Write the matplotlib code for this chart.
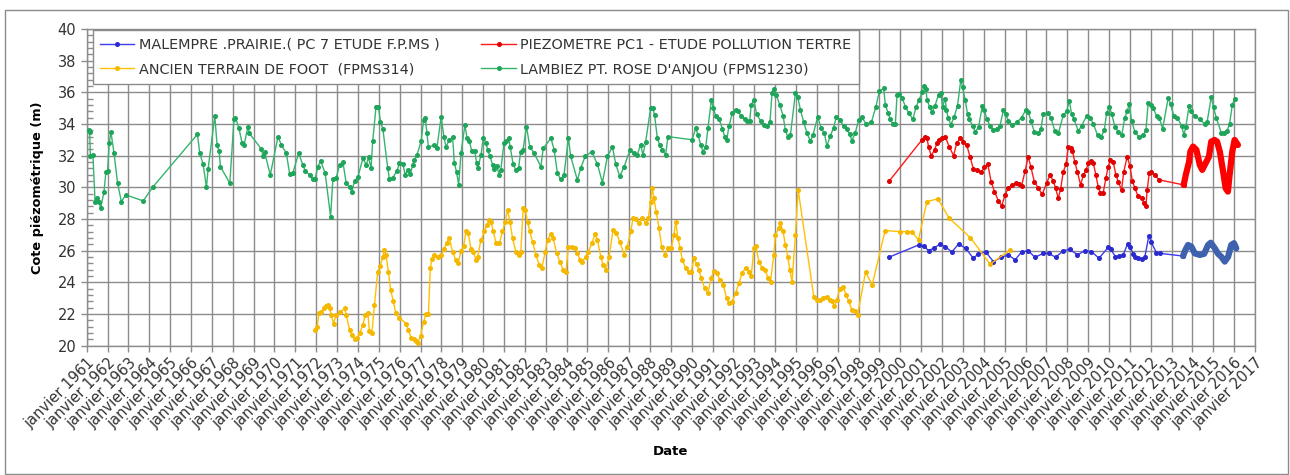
import matplotlib
matplotlib.use("Agg")
import matplotlib.pyplot as plt
from matplotlib.patches import Rectangle
from matplotlib.ticker import MultipleLocator

# dates in decimal years, water levels in m
malempre_t = [1999.44, 2000.88, 2001.11, 2001.35, 2001.59, 2001.91, 2002.15, 2002.47, 2002.79,
              2003.13, 2003.50, 2003.74, 2004.09, 2004.46, 2004.83, 2005.18, 2005.50, 2005.81,
              2006.13, 2006.45, 2006.85, 2007.12, 2007.44, 2007.81, 2008.13, 2008.49, 2008.84,
              2009.16, 2009.52, 2009.96, 2010.09, 2010.31, 2010.47, 2010.68, 2010.89, 2011.00,
              2011.16, 2011.24, 2011.40, 2011.56, 2011.72, 2011.91, 2012.01, 2012.27, 2012.43,
              2013.55]
malempre_z = [25.58, 26.36, 26.32, 26.00, 26.15, 26.42, 26.25, 25.92, 26.42,
              26.15, 25.52, 25.80, 25.92, 25.31, 25.58, 25.73, 25.42, 25.92,
              26.00, 25.58, 25.83, 25.83, 25.58, 26.00, 26.08, 25.73, 26.00,
              25.94, 25.52, 26.21, 26.08, 25.62, 25.66, 25.73, 26.42, 26.25,
              25.80, 25.58, 25.52, 25.45, 25.62, 26.93, 26.57, 25.88, 25.83,
              25.66]
# frequent readings since 2013
malempre_dense_t = [2013.55, 2013.66, 2013.79, 2013.95, 2014.11, 2014.35, 2014.56, 2014.75,
                    2014.88, 2015.07, 2015.23, 2015.38, 2015.55, 2015.71, 2015.86, 2015.99,
                    2016.10]
malempre_dense_z = [25.66, 26.04, 26.36, 26.25, 25.83, 25.73, 25.80, 26.36,
                    26.50, 26.15, 25.80, 25.62, 25.31, 25.62, 26.36, 26.47,
                    26.15]

pc1_t = [1999.47, 2001.03, 2001.16, 2001.27, 2001.35, 2001.48, 2001.64, 2001.75, 2001.83,
         2001.99, 2002.15, 2002.34, 2002.55, 2002.70, 2002.87, 2003.02, 2003.18, 2003.34,
         2003.50, 2003.66, 2003.87, 2004.03, 2004.19, 2004.35, 2004.51, 2004.70, 2004.86,
         2005.02, 2005.18, 2005.37, 2005.53, 2005.69, 2005.81, 2005.98, 2006.13, 2006.26,
         2006.42, 2006.61, 2006.80, 2007.01, 2007.17, 2007.33, 2007.44, 2007.57, 2007.68,
         2007.81, 2007.94, 2008.05, 2008.16, 2008.25, 2008.37, 2008.48, 2008.64, 2008.77,
         2008.90, 2009.01, 2009.12, 2009.25, 2009.37, 2009.48, 2009.59, 2009.72, 2009.85,
         2009.96, 2010.07, 2010.20, 2010.33, 2010.44, 2010.60, 2010.71, 2010.87, 2011.00,
         2011.12, 2011.24, 2011.40, 2011.56, 2011.67, 2011.77, 2011.83, 2011.93, 2012.03,
         2012.20, 2012.40, 2013.58]
pc1_z = [30.40, 32.99, 33.20, 33.14, 32.57, 32.00, 32.36, 32.78, 32.99,
         33.14, 33.20, 32.57, 32.00, 32.78, 33.14, 32.88, 32.67, 31.93,
         31.16, 31.10, 30.95, 31.25, 31.46, 30.36, 29.73, 29.14, 28.85,
         29.52, 29.98, 30.15, 30.26, 30.20, 30.09, 31.04, 31.93, 31.25,
         30.36, 29.94, 29.56, 30.26, 30.78, 30.40, 29.94, 29.31, 29.90,
         30.99, 31.46, 32.57, 32.47, 32.26, 31.58, 30.99, 30.15, 30.78,
         31.10, 31.52, 31.66, 31.52, 30.78, 30.05, 29.63, 29.63, 30.57,
         31.31, 31.73, 31.62, 30.78, 30.36, 29.84, 30.99, 31.93, 31.37,
         30.40, 29.94, 29.42, 29.31, 29.00, 28.85, 29.84, 30.89, 30.99,
         30.78, 30.47, 30.15]
pc1_dense_t = [2013.58, 2013.68, 2013.84, 2013.90, 2014.03, 2014.19, 2014.35, 2014.47,
               2014.63, 2014.79, 2014.90, 2015.06, 2015.18, 2015.31, 2015.47, 2015.59,
               2015.70, 2015.78, 2015.91, 2016.02, 2016.18]
pc1_dense_z = [30.15, 30.78, 31.62, 32.26, 32.57, 32.36, 31.42, 31.10,
               31.52, 31.93, 32.88, 32.99, 32.88, 32.26, 30.99, 29.94,
               29.73, 30.78, 32.26, 32.99, 32.67]

foot_t = [1971.93, 1972.05, 1972.13, 1972.24, 1972.37, 1972.48, 1972.56, 1972.64, 1972.72,
          1972.83, 1972.96, 1973.12, 1973.36, 1973.44, 1973.60, 1973.71, 1973.84, 1973.97,
          1974.08, 1974.24, 1974.35, 1974.48, 1974.55, 1974.67, 1974.79, 1974.95, 1975.08,
          1975.19, 1975.27, 1975.35, 1975.46, 1975.57, 1975.70, 1975.81, 1975.99, 1976.31,
          1976.42, 1976.55, 1976.68, 1976.79, 1976.87, 1977.00, 1977.15, 1977.26, 1977.38,
          1977.47, 1977.55, 1977.66, 1977.82, 1977.98, 1978.14, 1978.25, 1978.38, 1978.54,
          1978.70, 1978.81, 1978.94, 1979.07, 1979.18, 1979.29, 1979.42, 1979.53, 1979.66,
          1979.74, 1979.90, 1980.06, 1980.17, 1980.30, 1980.38, 1980.49, 1980.62, 1980.78,
          1980.93, 1981.06, 1981.17, 1981.29, 1981.41, 1981.57, 1981.70, 1981.81, 1981.92,
          1982.02, 1982.13, 1982.24, 1982.37, 1982.53, 1982.69, 1982.82, 1982.98, 1983.09,
          1983.25, 1983.36, 1983.52, 1983.68, 1983.84, 1983.97, 1984.09, 1984.25, 1984.41,
          1984.52, 1984.64, 1984.76, 1984.92, 1985.05, 1985.21, 1985.37, 1985.48, 1985.64,
          1985.75, 1985.88, 1986.04, 1986.23, 1986.39, 1986.55, 1986.76, 1986.91, 1987.08,
          1987.19, 1987.32, 1987.47, 1987.63, 1987.79, 1987.92, 1988.03, 1988.11, 1988.19,
          1988.30, 1988.43, 1988.56, 1988.72, 1988.86, 1989.02, 1989.15, 1989.23, 1989.34,
          1989.44, 1989.55, 1989.71, 1989.87, 1989.98, 1990.11, 1990.23, 1990.34, 1990.46,
          1990.62, 1990.78, 1990.93, 1991.06, 1991.19, 1991.35, 1991.51, 1991.67, 1991.78,
          1991.94, 1992.10, 1992.26, 1992.42, 1992.58, 1992.74, 1992.85, 1992.98, 1993.06,
          1993.22, 1993.37, 1993.53, 1993.65, 1993.78, 1993.93, 1994.01, 1994.17, 1994.25,
          1994.38, 1994.49, 1994.60, 1994.70, 1994.81, 1994.97, 1995.10, 1995.85, 1996.00,
          1996.13, 1996.29, 1996.46, 1996.61, 1996.72, 1996.84, 1996.96, 1997.09, 1997.25,
          1997.41, 1997.52, 1997.68, 1997.84, 1997.95, 1998.33, 1998.65, 1999.27, 2000.00,
          2000.30, 2000.55, 2000.87, 2001.27, 2001.80, 2002.34, 2003.35, 2004.30, 2005.26]
foot_z = [21.00, 21.20, 22.05, 22.15, 22.35, 22.50, 22.55, 22.35, 21.95,
          21.40, 21.95, 22.10, 22.35, 21.95, 21.00, 20.70, 20.40, 20.50,
          20.80, 21.30, 21.95, 22.05, 20.90, 20.80, 22.55, 24.68, 25.05,
          25.60, 26.05, 25.70, 24.68, 23.50, 22.80, 22.05, 21.75, 21.40,
          21.00, 20.50, 20.40, 20.30, 20.20, 20.60, 21.50, 22.00, 22.00,
          24.90, 25.50, 25.70, 25.60, 25.70, 26.10, 26.50, 26.80, 25.90,
          25.40, 25.20, 26.00, 26.30, 27.24, 27.10, 26.10, 25.94, 25.42,
          25.63, 26.68, 27.21, 27.63, 27.94, 27.84, 27.21, 26.47, 26.47,
          27.21, 27.84, 28.57, 27.84, 26.79, 25.94, 25.73, 25.94, 28.68,
          28.57, 27.84, 27.21, 26.57, 25.73, 25.10, 24.93, 25.94, 26.68,
          27.04, 26.79, 25.84, 25.31, 24.79, 24.68, 26.26, 26.20, 26.16,
          25.84, 25.42, 25.31, 25.63, 25.94, 26.47, 27.04, 26.68, 25.63,
          25.10, 24.79, 25.63, 27.31, 27.10, 26.57, 25.73, 26.26, 27.21,
          28.09, 28.00, 27.73, 28.05, 27.73, 28.05, 29.10, 29.94, 29.31,
          28.47, 27.42, 26.26, 25.73, 26.16, 26.16, 27.00, 27.84, 26.79,
          26.16, 25.42, 24.90, 24.64, 24.68, 25.53, 25.15, 24.79, 24.26,
          23.63, 23.32, 24.26, 24.73, 24.58, 24.16, 23.84, 23.00, 22.69,
          22.79, 23.32, 23.95, 24.58, 24.93, 24.68, 24.37, 26.16, 26.32,
          25.31, 24.93, 24.79, 24.26, 24.05, 25.73, 27.00, 27.42, 27.73,
          27.21, 26.37, 25.63, 24.79, 24.05, 27.00, 29.84, 23.10, 22.90,
          22.90, 23.00, 23.10, 22.90, 22.80, 22.50, 22.90, 23.60, 23.70,
          23.20, 22.80, 22.26, 22.16, 21.95, 24.65, 23.85, 27.27, 27.20,
          27.20, 27.20, 26.68, 29.10, 29.27, 28.05, 26.83, 25.15, 26.05]

lambiez_t = [1961.10, 1961.14, 1961.18, 1961.30, 1961.40, 1961.50, 1961.59, 1961.67, 1961.83,
             1961.92, 1962.00, 1962.08, 1962.16, 1962.31, 1962.48, 1962.66, 1962.88, 1963.71,
             1964.16, 1966.31, 1966.42, 1966.58, 1966.74, 1966.82, 1967.14, 1967.25, 1967.35,
             1967.41, 1967.86, 1968.06, 1968.12, 1968.29, 1968.45, 1968.55, 1968.73, 1968.80,
             1969.37, 1969.45, 1969.53, 1969.80, 1970.17, 1970.33, 1970.57, 1970.73, 1970.88,
             1971.16, 1971.36, 1971.47, 1971.68, 1971.84, 1971.95, 1972.08, 1972.21, 1972.43,
             1972.69, 1972.80, 1972.96, 1973.12, 1973.28, 1973.44, 1973.60, 1973.71, 1973.84,
             1974.00, 1974.24, 1974.40, 1974.51, 1974.63, 1974.71, 1974.87, 1974.98, 1975.08,
             1975.20, 1975.43, 1975.51, 1975.67, 1975.88, 1975.99, 1976.15, 1976.26, 1976.39,
             1976.52, 1976.62, 1976.70, 1976.83, 1977.03, 1977.15, 1977.23, 1977.31, 1977.38,
             1977.66, 1977.79, 1977.99, 1978.12, 1978.22, 1978.38, 1978.54, 1978.62, 1978.73,
             1978.83, 1978.94, 1979.13, 1979.23, 1979.34, 1979.45, 1979.60, 1979.69, 1979.75,
             1979.90, 1980.01, 1980.14, 1980.22, 1980.33, 1980.46, 1980.54, 1980.65, 1980.77,
             1980.85, 1981.00, 1981.11, 1981.22, 1981.30, 1981.44, 1981.57, 1981.70, 1981.80,
             1981.91, 1982.08, 1982.24, 1982.45, 1982.77, 1982.88, 1983.25, 1983.41, 1983.56,
             1983.72, 1983.88, 1984.09, 1984.20, 1984.52, 1984.68, 1984.89, 1985.21, 1985.48,
             1985.72, 1985.96, 1986.20, 1986.36, 1986.55, 1986.76, 1987.04, 1987.23, 1987.39,
             1987.55, 1987.66, 1987.79, 1988.03, 1988.14, 1988.22, 1988.35, 1988.46, 1988.59,
             1988.75, 1988.86, 1990.02, 1990.19, 1990.30, 1990.43, 1990.54, 1990.67, 1990.78,
             1990.94, 1991.04, 1991.15, 1991.31, 1991.47, 1991.58, 1991.68, 1991.78, 1991.94,
             1992.10, 1992.21, 1992.37, 1992.53, 1992.66, 1992.78, 1992.85, 1992.98, 1993.11,
             1993.30, 1993.46, 1993.62, 1993.75, 1993.85, 1993.93, 1994.06, 1994.22, 1994.38,
             1994.49, 1994.60, 1994.73, 1994.97, 1995.08, 1995.21, 1995.37, 1995.53, 1995.69,
             1995.81, 1996.04, 1996.20, 1996.36, 1996.48, 1996.64, 1996.80, 1996.93, 1997.12,
             1997.28, 1997.44, 1997.57, 1997.68, 1997.84, 1998.00, 1998.15, 1998.35, 1998.61,
             1998.83, 1998.99, 1999.20, 1999.28, 1999.41, 1999.52, 1999.63, 1999.76, 1999.84,
             1999.95, 2000.08, 2000.24, 2000.40, 2000.60, 2000.76, 2000.89, 2001.05, 2001.13,
             2001.21, 2001.29, 2001.40, 2001.53, 2001.66, 2001.83, 2001.94, 2002.02, 2002.15,
             2002.21, 2002.30, 2002.42, 2002.58, 2002.74, 2002.90, 2002.98, 2003.11, 2003.22,
             2003.30, 2003.46, 2003.59, 2003.75, 2003.93, 2004.03, 2004.14, 2004.30, 2004.46,
             2004.62, 2004.78, 2004.94, 2005.05, 2005.18, 2005.37, 2005.58, 2005.81, 2006.00,
             2006.13, 2006.26, 2006.42, 2006.61, 2006.74, 2006.85, 2007.09, 2007.22, 2007.41,
             2007.57, 2007.81, 2007.97, 2008.10, 2008.21, 2008.32, 2008.53, 2008.69, 2008.93,
             2009.09, 2009.25, 2009.45, 2009.61, 2009.77, 2009.89, 2010.02, 2010.13, 2010.29,
             2010.45, 2010.61, 2010.76, 2010.87, 2010.97, 2011.08, 2011.24, 2011.45, 2011.64,
             2011.77, 2011.88, 2011.99, 2012.12, 2012.28, 2012.41, 2012.57, 2012.84, 2012.95,
             2013.11, 2013.27, 2013.48, 2013.59, 2013.68, 2013.84, 2013.95, 2014.11, 2014.35,
             2014.59, 2014.70, 2014.90, 2015.01, 2015.14, 2015.38, 2015.49, 2015.65, 2015.78,
             2015.91, 2016.02]
lambiez_z = [33.60, 33.50, 31.95, 32.05, 29.10, 29.35, 29.10, 28.68, 29.73,
             30.95, 31.00, 32.78, 33.51, 32.15, 30.26, 29.10, 29.52, 29.14,
             30.00, 33.35, 32.15, 31.46, 30.00, 31.16, 34.50, 32.67, 32.30,
             31.30, 30.26, 34.30, 34.40, 33.77, 32.78, 32.70, 33.83, 33.40,
             32.42, 32.00, 32.20, 30.78, 33.20, 32.67, 32.15, 30.83, 30.90,
             32.15, 31.41, 31.05, 30.80, 30.50, 30.55, 31.30, 31.66, 30.90,
             28.15, 30.50, 30.60, 31.40, 31.60, 30.26, 30.00, 29.73, 30.40,
             30.65, 31.84, 31.40, 31.90, 31.20, 32.93, 35.10, 35.05, 34.15,
             33.65, 31.20, 30.53, 30.60, 31.05, 31.55, 31.50, 30.80, 31.10,
             30.85, 31.40, 31.70, 32.04, 32.90, 34.25, 34.35, 33.40, 32.55,
             32.65, 32.50, 34.46, 33.20, 32.55, 33.00, 33.15, 31.55, 30.95,
             30.15, 32.15, 33.94, 33.10, 32.95, 32.30, 32.30, 31.52, 31.20,
             32.05, 33.14, 32.80, 32.35, 31.95, 31.40, 31.15, 31.35, 30.80,
             31.10, 32.80, 32.95, 33.14, 32.55, 31.45, 31.10, 31.20, 32.25,
             32.35, 33.83, 32.55, 32.15, 31.30, 32.45, 33.10, 32.35, 30.90,
             30.50, 30.80, 33.10, 31.95, 30.45, 31.20, 31.95, 32.25, 31.45,
             30.30, 31.95, 32.55, 31.45, 30.70, 31.30, 32.35, 32.15, 32.05,
             32.70, 32.05, 32.85, 35.00, 35.00, 34.55, 33.10, 32.70, 32.35,
             32.05, 33.20, 33.00, 33.73, 33.30, 32.70, 32.25, 32.55, 33.73,
             35.50, 35.00, 34.50, 34.30, 33.70, 33.20, 33.00, 33.84, 34.66,
             34.90, 34.80, 34.50, 34.30, 34.20, 34.20, 35.20, 35.50, 34.60,
             34.20, 33.95, 33.90, 34.10, 35.98, 36.20, 35.80, 35.20, 34.50,
             33.60, 33.20, 33.30, 35.94, 35.70, 34.90, 34.10, 33.40, 32.90,
             33.30, 34.45, 33.75, 33.40, 32.60, 33.25, 33.75, 34.45, 34.25,
             33.85, 33.65, 33.35, 32.95, 33.45, 34.25, 34.45, 34.00, 34.10,
             35.10, 36.05, 36.25, 35.20, 34.70, 34.30, 34.00, 34.00, 35.80,
             35.90, 35.65, 35.10, 34.70, 34.30, 35.10, 35.50, 36.00, 36.40,
             36.20, 35.50, 35.05, 34.75, 35.15, 35.85, 35.95, 35.10, 35.60,
             34.85, 34.35, 33.95, 34.45, 35.15, 36.80, 36.30, 35.50, 34.60,
             34.30, 33.90, 33.50, 33.80, 35.15, 34.90, 34.30, 33.90, 33.60,
             33.70, 33.90, 34.90, 34.60, 34.20, 33.95, 34.10, 34.40, 34.85,
             34.75, 34.20, 33.50, 33.40, 33.70, 34.65, 34.70, 34.35, 33.55,
             33.40, 34.55, 34.80, 35.45, 34.60, 34.30, 33.55, 33.90, 34.50,
             34.40, 34.00, 33.30, 33.15, 33.60, 34.70, 35.10, 34.60, 33.80,
             33.50, 33.30, 34.40, 34.80, 35.25, 34.20, 33.50, 33.15, 33.30,
             33.60, 35.35, 35.20, 35.00, 34.50, 34.40, 33.70, 35.65, 35.25,
             34.50, 34.40, 33.90, 33.30, 33.80, 35.15, 34.80, 34.50, 34.30,
             34.00, 34.10, 35.70, 35.05, 34.40, 33.45, 33.40, 33.55, 34.00,
             35.20, 35.60]

labels = ["MALEMPRE .PRAIRIE.( PC 7 ETUDE F.P.MS )",
          "PIEZOMETRE PC1 - ETUDE POLLUTION TERTRE",
          "ANCIEN TERRAIN DE FOOT  (FPMS314)",
          "LAMBIEZ PT. ROSE D'ANJOU (FPMS1230)"]
years = list(range(1961, 2018))

grid_c = "#8c8c8c"
txt_c = "#333333"

fig = plt.figure(figsize=(12.9, 4.75), dpi=100)
ax = fig.add_axes([0.0672, 0.2722, 0.9057, 0.667])
fig.add_artist(Rectangle((0.004, 0.002), 0.9946, 0.977, transform=fig.transFigure,
                         fill=False, edgecolor="#8a8a8a", linewidth=1.0))

mk = dict(marker="o", markersize=2.6, linewidth=1.0)
h_blue, = ax.plot(malempre_t, malempre_z, color="#3c3cf0", mec="#2a2ad0", mfc="#2a2ad0",
                  label=labels[0], zorder=3, **mk)
ax.plot(malempre_dense_t, malempre_dense_z, color="#3e62ad", linewidth=4.5,
        solid_capstyle="round", solid_joinstyle="round", zorder=3)
h_red, = ax.plot(pc1_t, pc1_z, color="#ff1a1a", mec="#e00000", mfc="#e00000",
                 label=labels[1], zorder=4, **mk)
ax.plot(pc1_dense_t, pc1_dense_z, color="#ff0000", linewidth=4.5,
        solid_capstyle="round", solid_joinstyle="round", zorder=4)
h_yel, = ax.plot(foot_t, foot_z, color="#ffc000", mec="#f5b800", mfc="#f5b800",
                 label=labels[2], zorder=5, **mk)
h_grn, = ax.plot(lambiez_t, lambiez_z, color="#35b46e", mec="#1fa55a", mfc="#1fa55a",
                 label=labels[3], zorder=6, **mk)

ax.set_xlim(1961, 2017)
ax.set_ylim(20, 40)
ax.set_xticks(years)
ax.set_xticklabels(["janvier %d" % y for y in years], rotation=45, ha="right",
                   va="top", rotation_mode="anchor", fontsize=10.5, color=txt_c)
ax.yaxis.set_major_locator(MultipleLocator(2))
ax.yaxis.set_minor_locator(MultipleLocator(0.4))
ax.tick_params(axis="y", which="major", direction="out", length=4.5, width=1,
               color=grid_c, labelsize=10.5, labelcolor=txt_c, pad=3)
ax.tick_params(axis="y", which="minor", direction="in", length=4.5, width=1, color=grid_c)
ax.tick_params(axis="x", which="major", direction="out", length=4, width=1,
               color=grid_c, pad=3)
ax.grid(True, which="major", color=grid_c, linewidth=1.0)
ax.set_axisbelow(True)
for s in ax.spines.values():
    s.set_color(grid_c)
    s.set_linewidth(1.0)

ax.set_ylabel("Cote piézométrique (m)", fontsize=9.3, fontweight="bold", color="black",
              labelpad=10)
ax.set_xlabel("Date", fontsize=9.5, fontweight="bold", color="black", labelpad=10)

leg = ax.legend(handles=[h_blue, h_yel, h_red, h_grn], ncol=2, loc="upper left",
                bbox_to_anchor=(0.005, 0.995), fontsize=10.4, frameon=True, fancybox=False,
                framealpha=1, edgecolor="#8a8a8a", handlelength=2.4, handletextpad=0.3,
                columnspacing=2.9, labelspacing=0.75, borderpad=0.5, borderaxespad=0)
leg.get_frame().set_linewidth(1.0)
for t in leg.get_texts():
    t.set_color(txt_c)
leg.set_zorder(10)

fig.savefig("out.png", dpi=100, facecolor="white")
